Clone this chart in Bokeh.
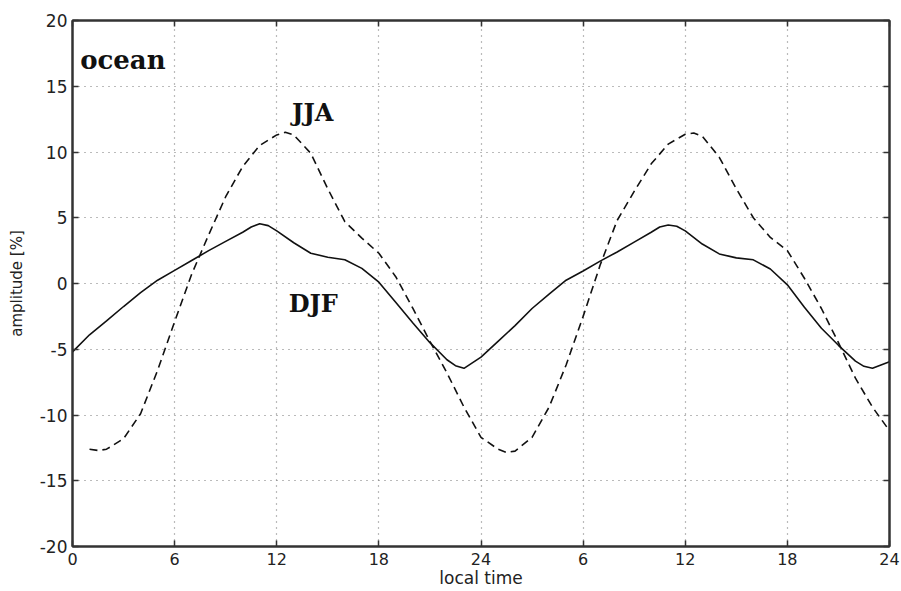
from bokeh.plotting import figure
from bokeh.models import Range1d, FixedTicker, LinearAxis, Label
from bokeh.embed import file_html
from bokeh.resources import INLINE

# ---- data ----
hours_djf = [0, 1, 2, 3, 4, 5, 6, 7, 8, 9, 10, 10.5, 11, 11.5, 12, 13, 14, 15, 16, 17, 18,
             19, 20, 21, 22, 22.5, 23, 24, 25, 26, 27, 28, 29, 30, 31, 32, 33, 34, 34.5, 35,
             35.5, 36, 37, 38, 39, 40, 41, 42, 43, 44, 45, 46, 46.5, 47, 48]
djf = [-5.2, -3.9, -2.85, -1.75, -0.7, 0.25, 1.0, 1.75, 2.5, 3.2, 3.9, 4.3, 4.55, 4.4,
       4.0, 3.1, 2.3, 2.0, 1.8, 1.15, 0.1, -1.45, -3.0, -4.5, -5.8, -6.25, -6.45,
       -5.6, -4.4, -3.2, -1.9, -0.8, 0.25, 0.95, 1.7, 2.4, 3.15, 3.9, 4.3, 4.45, 4.35,
       4.0, 3.0, 2.25, 1.95, 1.8, 1.1, -0.1, -1.8, -3.4, -4.7, -5.9, -6.3, -6.45, -5.95]

hours_jja = [1, 1.5, 2, 3, 4, 5, 6, 7, 8, 9, 10, 11, 12, 12.5, 13, 14, 15, 16, 17, 18, 19,
             20, 21, 22, 23, 24, 25, 25.5, 26, 27, 28, 29, 30, 31, 32, 33, 34, 35, 36, 36.5,
             37, 38, 39, 40, 41, 42, 43, 44, 45, 46, 47, 48]
jja = [-12.6, -12.7, -12.6, -11.8, -9.9, -6.6, -2.9, 0.7, 3.7, 6.6, 8.9, 10.5,
       11.3, 11.5, 11.3, 9.9, 7.2, 4.7, 3.45, 2.3, 0.5, -1.9, -4.4, -6.8, -9.4,
       -11.7, -12.6, -12.85, -12.75, -11.7, -9.4, -6.2, -2.5, 1.4, 4.8, 7.0, 9.1,
       10.6, 11.35, 11.45, 11.2, 9.6, 7.2, 5.0, 3.5, 2.5, 0.4, -1.9, -4.5, -7.2, -9.4, -11.2]

x_ticks = [0, 6, 12, 18, 24, 30, 36, 42, 48]
x_tick_labels = ["0", "6", "12", "18", "24", "6", "12", "18", "24"]
y_ticks = [-20, -15, -10, -5, 0, 5, 10, 15, 20]
y_tick_labels = ["-20", "-15", "-10", "-5", "0", "5", "10", "15", "20"]

p = figure(width=901, height=591, x_range=Range1d(0, 48), y_range=Range1d(-20, 20),
           output_backend="svg", toolbar_location=None,
           min_border_left=72, min_border_right=12, min_border_top=20, min_border_bottom=45)
p.background_fill_color = "white"
p.border_fill_color = "white"
p.outline_line_color = "#333333"
p.outline_line_width = 2

tick_font = "DejaVu Sans"

xa = p.xaxis[0]
xa.ticker = FixedTicker(ticks=x_ticks)
xa.major_label_overrides = {t: l for t, l in zip(x_ticks, x_tick_labels)}
xa.axis_label = "local time"
xa.axis_label_text_font = tick_font
xa.axis_label_text_font_size = "17px"
xa.axis_label_text_font_style = "normal"
xa.axis_label_text_color = "#222222"
xa.axis_label_standoff = 0

ya = p.yaxis[0]
ya.ticker = FixedTicker(ticks=y_ticks)
ya.major_label_overrides = {t: l for t, l in zip(y_ticks, y_tick_labels)}
ya.axis_label = "amplitude [%]"
ya.axis_label_text_font = tick_font
ya.axis_label_text_font_size = "15px"
ya.axis_label_text_font_style = "normal"
ya.axis_label_text_color = "#222222"
ya.axis_label_standoff = 11

for ax in (xa, ya):
    ax.major_tick_in = 6
    ax.major_tick_out = 0
    ax.minor_tick_line_color = None
    ax.major_label_text_font = tick_font
    ax.major_label_text_color = "#222222"
    ax.axis_line_color = "#333333"
    ax.axis_line_width = 2
    ax.major_tick_line_color = "#333333"
    ax.major_tick_line_width = 1.5
xa.major_label_text_font_size = "16px"
ya.major_label_text_font_size = "17px"
xa.major_label_standoff = 6
ya.major_label_standoff = 5

# mirrored tick-only axes (no labels)
for loc, tk in (("above", x_ticks), ("right", y_ticks)):
    a = LinearAxis(ticker=FixedTicker(ticks=tk), major_tick_in=6, major_tick_out=0,
                   minor_tick_line_color=None, major_label_text_font_size="0px",
                   major_label_text_color=None, major_label_standoff=0,
                   axis_line_color="#333333", axis_line_width=2,
                   major_tick_line_color="#333333", major_tick_line_width=1.5)
    p.add_layout(a, loc)

for g in (p.xgrid[0], p.ygrid[0]):
    g.grid_line_color = "#777777"
    g.grid_line_dash = "1 5"
    g.grid_line_width = 1.2
p.xgrid[0].ticker = FixedTicker(ticks=x_ticks)
p.ygrid[0].ticker = FixedTicker(ticks=y_ticks)

p.line(hours_djf, djf, line_color="#111111", line_width=1.6)
p.line(hours_jja, jja, line_color="#111111", line_width=1.6, line_dash="8 5")

serif = "DejaVu Serif"
p.add_layout(Label(x=0.45, y=17.0, text="ocean", text_font=serif, text_font_size="26px",
                   text_font_style="bold", text_baseline="alphabetic", text_color="#111111"))
p.add_layout(Label(x=12.9, y=13.0, text="JJA", text_font=serif, text_font_size="24px",
                   text_font_style="bold", text_baseline="alphabetic", text_color="#111111"))
p.add_layout(Label(x=12.7, y=-1.5, text="DJF", text_font=serif, text_font_size="24px",
                   text_font_style="bold", text_baseline="alphabetic", text_color="#111111"))

open("out.html", "w").write(file_html(p, INLINE))
